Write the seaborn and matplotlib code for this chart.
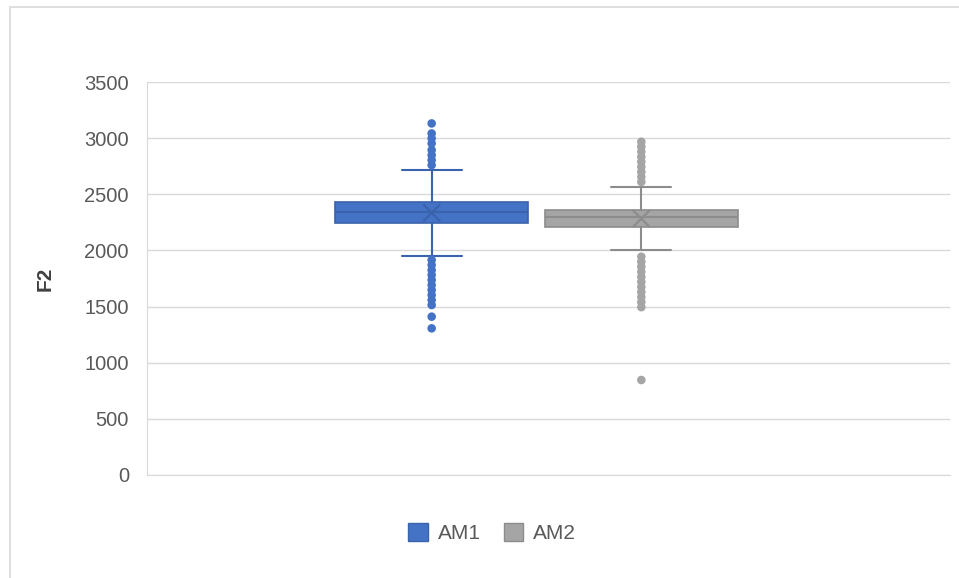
import pandas as pd
import seaborn as sns
import matplotlib.pyplot as plt
from matplotlib.patches import Rectangle, Patch

# summary values
groups = ["AM1", "AM2"]
q1 = [2247, 2211]
median = [2339, 2300]
q3 = [2434, 2360]
whis_lo = [1950, 2003]
whis_hi = [2713, 2567]
mean = [2335, 2283]
am1_outliers = [3131, 3042, 2998, 2953, 2894, 2849, 2805, 2760,
                1915, 1870, 1825, 1781, 1737, 1692, 1648, 1603, 1559, 1514,
                1410, 1306]
am2_outliers = [2968, 2925, 2880, 2835, 2790, 2745, 2700, 2655, 2610,
                1944, 1900, 1855, 1810, 1765, 1720, 1675, 1630, 1585, 1540,
                1495, 846]

fills = ["#4472C4", "#A5A5A5"]
edges = ["#3A63AD", "#8C8C8C"]
positions = [0.3545, 0.6156]
box_width = 0.240

sns.set_style("white")
plt.rcParams["font.family"] = ["Liberation Sans", "DejaVu Sans"]

fig = plt.figure(figsize=(9.59, 5.78), dpi=100)
ax = fig.add_axes([147 / 959, 1 - 475 / 578, 803 / 959, 393 / 578])

# chart frame
fig.patches.append(Rectangle((10 / 959, -0.1), 1.2, 1.1 - 7 / 578,
                             transform=fig.transFigure, fill=False,
                             edgecolor="#D9D9D9", lw=1.2, zorder=0))

stats = []
for i, g in enumerate(groups):
    stats.append(dict(label=g, q1=q1[i], med=median[i], q3=q3[i],
                      whislo=whis_lo[i], whishi=whis_hi[i], fliers=[]))

for i in range(len(groups)):
    ax.bxp([stats[i]], positions=[positions[i]], widths=box_width,
           showfliers=False, patch_artist=True, manage_ticks=False,
           boxprops=dict(facecolor=fills[i], edgecolor=edges[i], lw=1.2),
           medianprops=dict(color=edges[i], lw=1.5),
           whiskerprops=dict(color=edges[i], lw=1.5),
           capprops=dict(color=edges[i], lw=1.5),
           capwidths=box_width * 0.31)

out = pd.DataFrame({
    "pos": [positions[0]] * len(am1_outliers) + [positions[1]] * len(am2_outliers),
    "F2": am1_outliers + am2_outliers,
    "group": ["AM1"] * len(am1_outliers) + ["AM2"] * len(am2_outliers),
})
sns.scatterplot(data=out, x="pos", y="F2", hue="group",
                palette=dict(zip(groups, fills)), s=38, edgecolor="none",
                legend=False, ax=ax, zorder=4)

means = pd.DataFrame({"pos": positions, "F2": mean, "group": groups})
sns.scatterplot(data=means, x="pos", y="F2", hue="group",
                palette=dict(zip(groups, edges)), marker="x", s=150,
                linewidth=1.6, legend=False, ax=ax, zorder=5)

ax.set_xlim(0, 1)
ax.set_ylim(0, 3500)
ax.set_yticks(range(0, 3501, 500))
ax.set_xticks([])
ax.yaxis.grid(True, color="#D9D9D9", lw=1)
ax.set_axisbelow(True)
for side in ["top", "right"]:
    ax.spines[side].set_visible(False)
ax.spines["left"].set_color("#D9D9D9")
ax.spines["bottom"].set_color("#D9D9D9")
ax.tick_params(axis="y", length=0, pad=13, labelsize=14.5, labelcolor="#595959")
ax.set_xlabel("")
ax.set_ylabel("F2", fontsize=15, fontweight="bold", color="#404040")
ax.yaxis.set_label_coords(-0.1146, 0.5)

handles = [Patch(facecolor=fills[i], edgecolor=edges[i], label=g)
           for i, g in enumerate(groups)]
fig.legend(handles=handles, loc="center", bbox_to_anchor=(492 / 959, 1 - 533 / 578),
           ncol=2, frameon=False, fontsize=15, handlelength=0.95, handleheight=0.95,
           columnspacing=1.1, handletextpad=0.45, labelcolor="#595959")

fig.savefig("out.png", dpi=100)
